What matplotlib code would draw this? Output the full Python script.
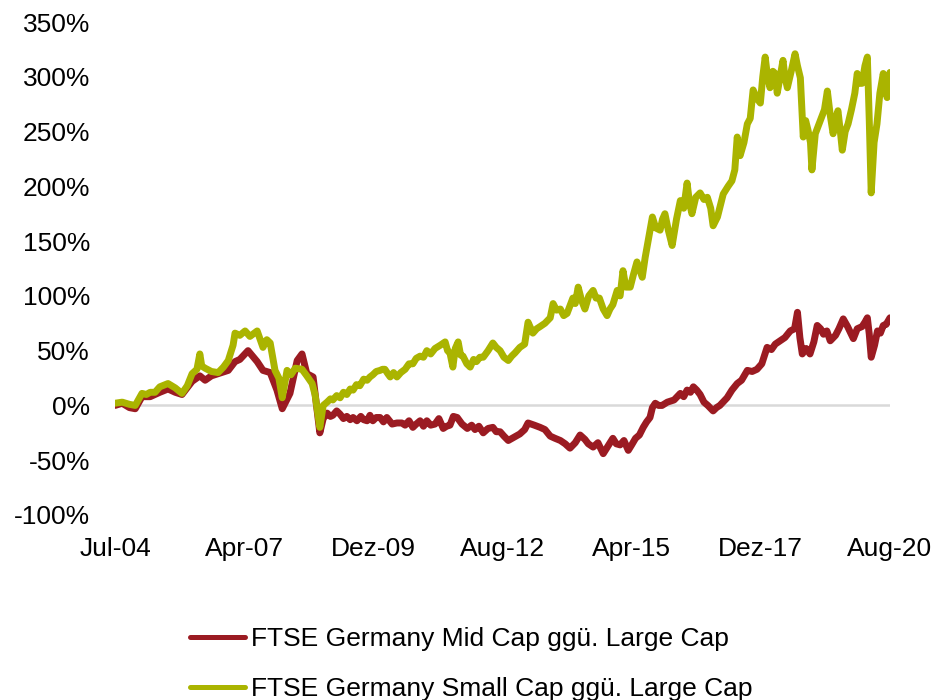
import matplotlib
matplotlib.use("Agg")
import matplotlib.pyplot as plt
import numpy as np
from matplotlib.ticker import FuncFormatter
from matplotlib.lines import Line2D

plt.rcParams['font.family'] = ['Liberation Sans', 'DejaVu Sans']

# Dates as decimal years
mid_dates = [2004.50, 2004.65, 2004.80, 2004.92, 2005.06, 2005.23, 2005.43, 2005.60, 2005.75, 2005.89,
             2006.10, 2006.26, 2006.37, 2006.50, 2006.64, 2006.85, 2006.99, 2007.09, 2007.26, 2007.45,
             2007.57, 2007.72, 2007.86, 2007.97, 2008.13, 2008.28, 2008.38, 2008.48, 2008.61, 2008.75,
             2008.82, 2008.90, 2008.97, 2009.02, 2009.10, 2009.17, 2009.24, 2009.31, 2009.38, 2009.44,
             2009.52, 2009.60, 2009.66, 2009.73, 2009.79, 2009.85, 2009.92, 2010.00,
             2010.07, 2010.14, 2010.25, 2010.35, 2010.45, 2010.52, 2010.60, 2010.68, 2010.75, 2010.83,
             2010.90, 2010.97, 2011.05, 2011.14, 2011.22, 2011.31, 2011.38, 2011.45, 2011.52, 2011.60,
             2011.70, 2011.81, 2011.90, 2011.97, 2012.05, 2012.14, 2012.24, 2012.34, 2012.41, 2012.49,
             2012.57, 2012.66, 2012.78, 2012.90, 2013.00, 2013.07, 2013.20, 2013.32, 2013.42, 2013.53,
             2013.63, 2013.74, 2013.84, 2013.94, 2014.05, 2014.15, 2014.25, 2014.32, 2014.42, 2014.52,
             2014.63, 2014.73, 2014.83, 2014.90, 2014.98, 2015.06, 2015.15, 2015.22, 2015.30,
             2015.38, 2015.46, 2015.53, 2015.60, 2015.65, 2015.71, 2015.78, 2015.85, 2015.96, 2016.03,
             2016.10, 2016.23, 2016.30, 2016.37, 2016.44, 2016.50, 2016.57, 2016.64,
             2016.72, 2016.80, 2016.91, 2016.98, 2017.05, 2017.20, 2017.30, 2017.41, 2017.50, 2017.62,
             2017.72, 2017.82, 2017.92, 2018.03, 2018.12, 2018.20, 2018.30, 2018.40,
             2018.51, 2018.60, 2018.66, 2018.71, 2018.76, 2018.84, 2018.92, 2019.00, 2019.07, 2019.14,
             2019.20, 2019.27, 2019.34, 2019.45, 2019.52, 2019.61, 2019.70, 2019.82, 2019.90, 2020.00,
             2020.06, 2020.11, 2020.15, 2020.19, 2020.26, 2020.32, 2020.38, 2020.44, 2020.50, 2020.58]
mid_vals = [0, 2, -2, -3, 8, 8, 12, 15, 12, 10,
            22, 27, 23, 27, 29, 32, 40, 42, 50, 40,
            32, 30, 14, -3, 11, 41, 47, 29, 26, -25,
            -12, -7, -10, -9, -5, -8, -12, -10, -13, -11,
            -14, -10, -13, -14, -9, -14, -11, -11,
            -15, -11, -17, -16, -16, -18, -14, -20, -17, -14,
            -19, -14, -18, -17, -12, -21, -19, -18, -10, -11,
            -17, -21, -18, -22, -19, -25, -21, -20, -24, -24,
            -28, -32, -29, -26, -22, -16, -18, -20, -22, -28,
            -30, -32, -35, -39, -34, -27, -31, -35, -38, -34,
            -44, -37, -30, -35, -36, -32, -41, -36, -30,
            -27, -20, -15, -11, -2, 2, 0, 0, 3, 4,
            5, 11, 8, 14, 12, 17, 14, 10,
            3, 0, -5, -2, 0, 7, 14, 20, 23, 32,
            31, 33, 38, 53, 51, 56, 59, 62,
            68, 70, 85, 62, 47, 52, 47, 58, 73, 70,
            65, 68, 59, 64, 70, 79, 72, 61, 70, 72,
            76, 80, 65, 44, 55, 68, 66, 73, 74, 80]

small_dates = [2004.50, 2004.65, 2004.80, 2004.92, 2005.06, 2005.15, 2005.23, 2005.33, 2005.43, 2005.60,
               2005.75, 2005.89, 2006.00, 2006.10, 2006.20, 2006.26, 2006.30, 2006.37, 2006.50, 2006.64,
               2006.75, 2006.85, 2006.95, 2006.99, 2007.09, 2007.20, 2007.30, 2007.45, 2007.57, 2007.65,
               2007.72, 2007.82, 2007.90, 2007.97, 2008.07, 2008.15, 2008.24, 2008.38, 2008.48, 2008.59,
               2008.65, 2008.75, 2008.82, 2008.90, 2008.97, 2009.02, 2009.10, 2009.17, 2009.24, 2009.31,
               2009.38, 2009.44, 2009.51, 2009.58, 2009.66, 2009.73, 2009.79, 2009.85, 2009.92, 2010.00,
               2010.05, 2010.10, 2010.16, 2010.21, 2010.28, 2010.35, 2010.43, 2010.52, 2010.60, 2010.68,
               2010.75, 2010.83, 2010.90, 2010.97, 2011.05, 2011.14, 2011.25, 2011.35, 2011.40, 2011.45,
               2011.51, 2011.56, 2011.62, 2011.67, 2011.72, 2011.80, 2011.87, 2011.94, 2012.00, 2012.07,
               2012.14, 2012.24, 2012.34, 2012.41, 2012.49, 2012.57, 2012.66, 2012.73, 2012.80, 2012.90,
               2013.00, 2013.07, 2013.17, 2013.25, 2013.32, 2013.42, 2013.53, 2013.59, 2013.66, 2013.74,
               2013.81, 2013.88, 2014.00, 2014.05, 2014.11, 2014.18, 2014.25, 2014.33, 2014.42, 2014.48,
               2014.55, 2014.63, 2014.71, 2014.77, 2014.83, 2014.92, 2014.98, 2015.04, 2015.10,
               2015.19, 2015.26, 2015.33, 2015.44, 2015.50, 2015.56, 2015.65, 2015.72, 2015.81, 2015.86,
               2015.91, 2015.98, 2016.06, 2016.15, 2016.23, 2016.30, 2016.37, 2016.42, 2016.47, 2016.55,
               2016.64, 2016.72, 2016.79, 2016.86, 2016.91, 2017.00, 2017.12, 2017.22, 2017.30, 2017.36,
               2017.41, 2017.47, 2017.55, 2017.62, 2017.68, 2017.74, 2017.82, 2017.89, 2017.94, 2017.99,
               2018.04, 2018.09, 2018.15, 2018.20, 2018.24, 2018.30, 2018.36, 2018.40, 2018.45, 2018.53,
               2018.61, 2018.66, 2018.72, 2018.78, 2018.83, 2018.88, 2018.93, 2018.96, 2019.03, 2019.09,
               2019.15, 2019.22, 2019.28, 2019.34, 2019.40, 2019.45, 2019.50, 2019.55, 2019.59, 2019.65,
               2019.71, 2019.78, 2019.85, 2019.90, 2019.95, 2020.00, 2020.06, 2020.11, 2020.15, 2020.19,
               2020.25, 2020.31, 2020.37, 2020.44, 2020.48, 2020.52, 2020.58]
small_vals = [2, 3, 1, 0, 11, 10, 12, 12, 17, 20,
              16, 11, 18, 29, 33, 47, 36, 34, 31, 30,
              35, 41, 55, 66, 64, 68, 63, 68, 53, 60,
              57, 32, 25, 7, 32, 28, 34, 33, 27, 20,
              10, -20, 0, 3, 6, 5, 9, 7, 12, 10,
              15, 14, 19, 18, 24, 23, 26, 28, 31, 32,
              33, 33, 29, 26, 30, 26, 30, 33, 38, 38,
              43, 45, 44, 50, 47, 52, 55, 58, 50, 48,
              35, 52, 58, 46, 45, 38, 35, 42, 40, 44,
              44, 50, 57, 53, 50, 44, 41, 45, 48, 53,
              56, 76, 66, 70, 72, 75, 80, 93, 87, 88,
              82, 84, 98, 93, 108, 96, 88, 100, 105, 98,
              98, 88, 82, 88, 92, 105, 100, 123, 108,
              108, 120, 131, 117, 135, 150, 172, 162, 160, 170,
              175, 160, 146, 170, 187, 180, 203, 185, 175, 190,
              194, 188, 190, 180, 164, 172, 193, 200, 205, 215,
              245, 228, 240, 257, 262, 288, 280, 276, 300, 318,
              300, 290, 305, 303, 285, 300, 315, 300, 290, 305,
              321, 310, 299, 245, 260, 251, 240, 215, 248, 255,
              262, 270, 287, 265, 248, 262, 269, 250, 233, 250,
              257, 270, 285, 303, 294, 294, 310, 318, 260, 194,
              240, 257, 285, 303, 290, 281, 304]

tick_labels = ["Jul-04", "Apr-07", "Dez-09", "Aug-12", "Apr-15", "Dez-17", "Aug-20"]
y_ticks = [-100, -50, 0, 50, 100, 150, 200, 250, 300, 350]

series_names = ["FTSE Germany Mid Cap ggü. Large Cap", "FTSE Germany Small Cap ggü. Large Cap"]
RED = "#9B1B22"
GREEN = "#AAB400"

fig = plt.figure(figsize=(9.34, 7.0), dpi=100)
ax = fig.add_axes([115/934, 1-515/700, (890-115)/934, (515-22)/700])

ax.axhline(0, color="#D9D9D9", lw=1.8, zorder=1)
ax.plot(small_dates, small_vals, color=GREEN, lw=5.0, solid_joinstyle='round', solid_capstyle='round', zorder=3)
ax.plot(mid_dates, mid_vals, color=RED, lw=5.0, solid_joinstyle='round', solid_capstyle='round', zorder=2)

x0, x1 = mid_dates[0], mid_dates[-1]
ax.set_xlim(x0, x1)
ax.set_ylim(y_ticks[0], y_ticks[-1])
ax.set_yticks(y_ticks)
ax.yaxis.set_major_formatter(FuncFormatter(lambda v, p: f"{int(v)}%"))
ax.set_xticks(np.linspace(x0, x1, len(tick_labels)))
ax.set_xticklabels(tick_labels)
ax.tick_params(axis='both', length=0, labelsize=19, colors='black')
ax.tick_params(axis='y', pad=18)
ax.tick_params(axis='x', pad=16)
for s in ax.spines.values():
    s.set_visible(False)

handles = [Line2D([], [], color=RED, lw=3.6, solid_capstyle='round'),
           Line2D([], [], color=GREEN, lw=3.6, solid_capstyle='round')]
fig.legend(handles, series_names, loc='upper left', bbox_to_anchor=(190/934, 1-627/700),
           frameon=False, fontsize=19, handlelength=2.1, handletextpad=0.2,
           labelspacing=0.98, borderpad=0, borderaxespad=0)

fig.savefig("out.png", dpi=100)
